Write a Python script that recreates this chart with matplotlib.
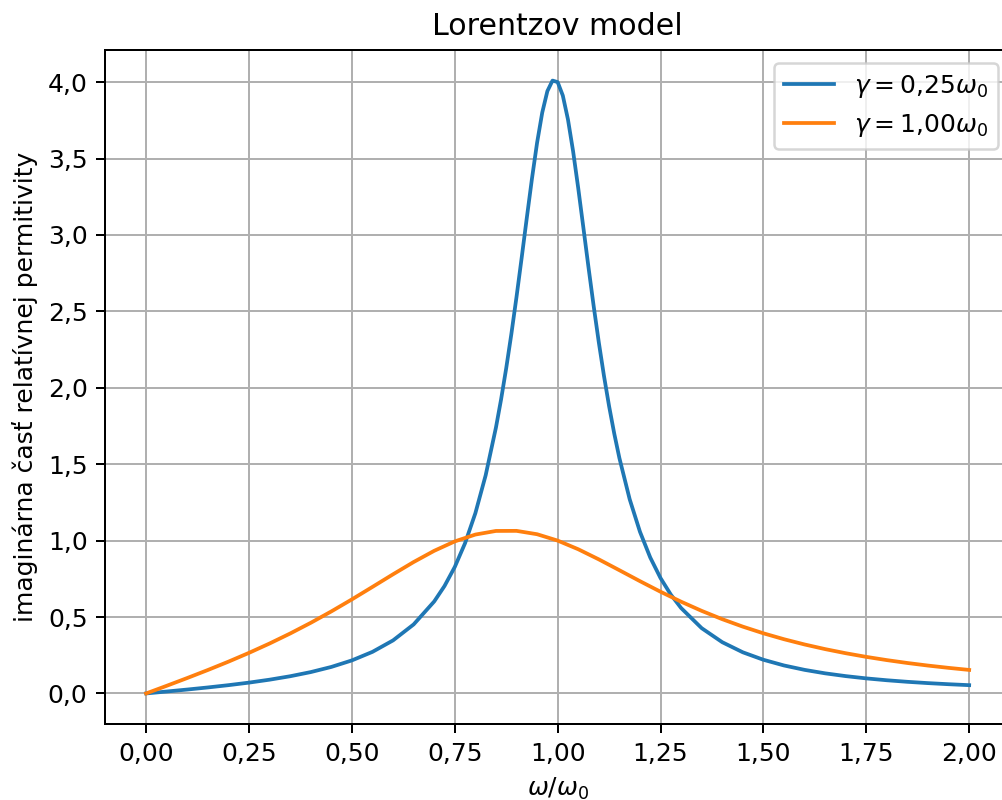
import matplotlib
matplotlib.use("Agg")
import matplotlib.pyplot as plt
from matplotlib.ticker import FuncFormatter

# values
w_narrow = [0.0, 0.05, 0.1, 0.15, 0.2, 0.25, 0.3, 0.35, 0.4, 0.45, 0.5, 0.55, 0.6,
            0.65, 0.7, 0.725, 0.75, 0.775, 0.8, 0.825, 0.85, 0.8625, 0.875, 0.8875,
            0.9, 0.9125, 0.925, 0.9375, 0.95, 0.9625, 0.975, 0.9875, 1.0, 1.0125,
            1.025, 1.0375, 1.05, 1.0625, 1.075, 1.0875, 1.1, 1.1125, 1.125, 1.1375,
            1.15, 1.175, 1.2, 1.225, 1.25, 1.275, 1.3, 1.35, 1.4, 1.45, 1.5, 1.55,
            1.6, 1.65, 1.7, 1.75, 1.8, 1.85, 1.9, 1.95, 2.0]
eps_narrow = [0.0, 0.0126, 0.0255, 0.0392, 0.0541, 0.0708, 0.0900, 0.1125, 0.1397,
              0.1734, 0.2162, 0.2721, 0.3471, 0.4515, 0.6019, 0.7028, 0.8276, 0.9833,
              1.1793, 1.4270, 1.7395, 1.9239, 2.1283, 2.3524, 2.5944, 2.8500, 3.1115,
              3.3677, 3.6033, 3.8004, 3.9409, 4.0100, 4.0, 3.9120, 3.7558, 3.5476,
              3.3056, 3.0471, 2.7866, 2.5343, 2.2969, 2.0781, 1.8793, 1.7003, 1.5402,
              1.2707, 1.0578, 0.8892, 0.7547, 0.6465, 0.5587, 0.4270, 0.3352, 0.2691,
              0.2202, 0.1830, 0.1542, 0.1315, 0.1133, 0.0984, 0.0862, 0.0760, 0.0675,
              0.0603, 0.0541]

w_wide = [0.0, 0.05, 0.1, 0.15, 0.2, 0.25, 0.3, 0.35, 0.4, 0.45, 0.5, 0.55, 0.6,
          0.65, 0.7, 0.75, 0.8, 0.85, 0.9, 0.95, 1.0, 1.05, 1.1, 1.15, 1.2, 1.25,
          1.3, 1.35, 1.4, 1.45, 1.5, 1.55, 1.6, 1.65, 1.7, 1.75, 1.8, 1.85, 1.9,
          1.95, 2.0]
eps_wide = [0.0, 0.0501, 0.1010, 0.1534, 0.2080, 0.2656, 0.3268, 0.3922, 0.4621,
            0.5367, 0.6154, 0.6971, 0.7796, 0.8598, 0.9332, 0.9948, 1.0395, 1.0632,
            1.0637, 1.0417, 1.0, 0.9434, 0.8771, 0.8062, 0.7346, 0.6653, 0.6002,
            0.5402, 0.4858, 0.4370, 0.3934, 0.3547, 0.3204, 0.2900, 0.2631, 0.2392,
            0.2180, 0.1991, 0.1823, 0.1673, 0.1538]

labels = [r"$\gamma = 0{,}25\omega_0$", r"$\gamma = 1{,}00\omega_0$"]
x_ticks = [0.0, 0.25, 0.5, 0.75, 1.0, 1.25, 1.5, 1.75, 2.0]
y_ticks = [0.0, 0.5, 1.0, 1.5, 2.0, 2.5, 3.0, 3.5, 4.0]

fig = plt.figure(figsize=(1002 / 180, 800 / 180), dpi=180)
# right edge of the axes runs just past the image, as in the reference
ax = fig.add_axes([0.1048, 0.095, 0.9035, 0.8425])

ax.plot(w_narrow, eps_narrow, color="tab:blue", linewidth=1.5, label=labels[0])
ax.plot(w_wide, eps_wide, color="tab:orange", linewidth=1.5, label=labels[1])

ax.set_xticks(x_ticks)
ax.set_yticks(y_ticks)
ax.set_xlim(-0.1, 2.1)
ax.set_ylim(-0.2, 4.21)
ax.xaxis.set_major_formatter(FuncFormatter(lambda v, p: f"{v:.2f}".replace(".", ",")))
ax.yaxis.set_major_formatter(FuncFormatter(lambda v, p: f"{v:.1f}".replace(".", ",")))
ax.grid(True)

ax.set_title("Lorentzov model")
ax.set_xlabel(r"$\omega/\omega_0$")
ax.set_ylabel("imaginárna časť relatívnej permitivity")
ax.legend(loc="upper right")

fig.savefig("out.png", dpi=180)
